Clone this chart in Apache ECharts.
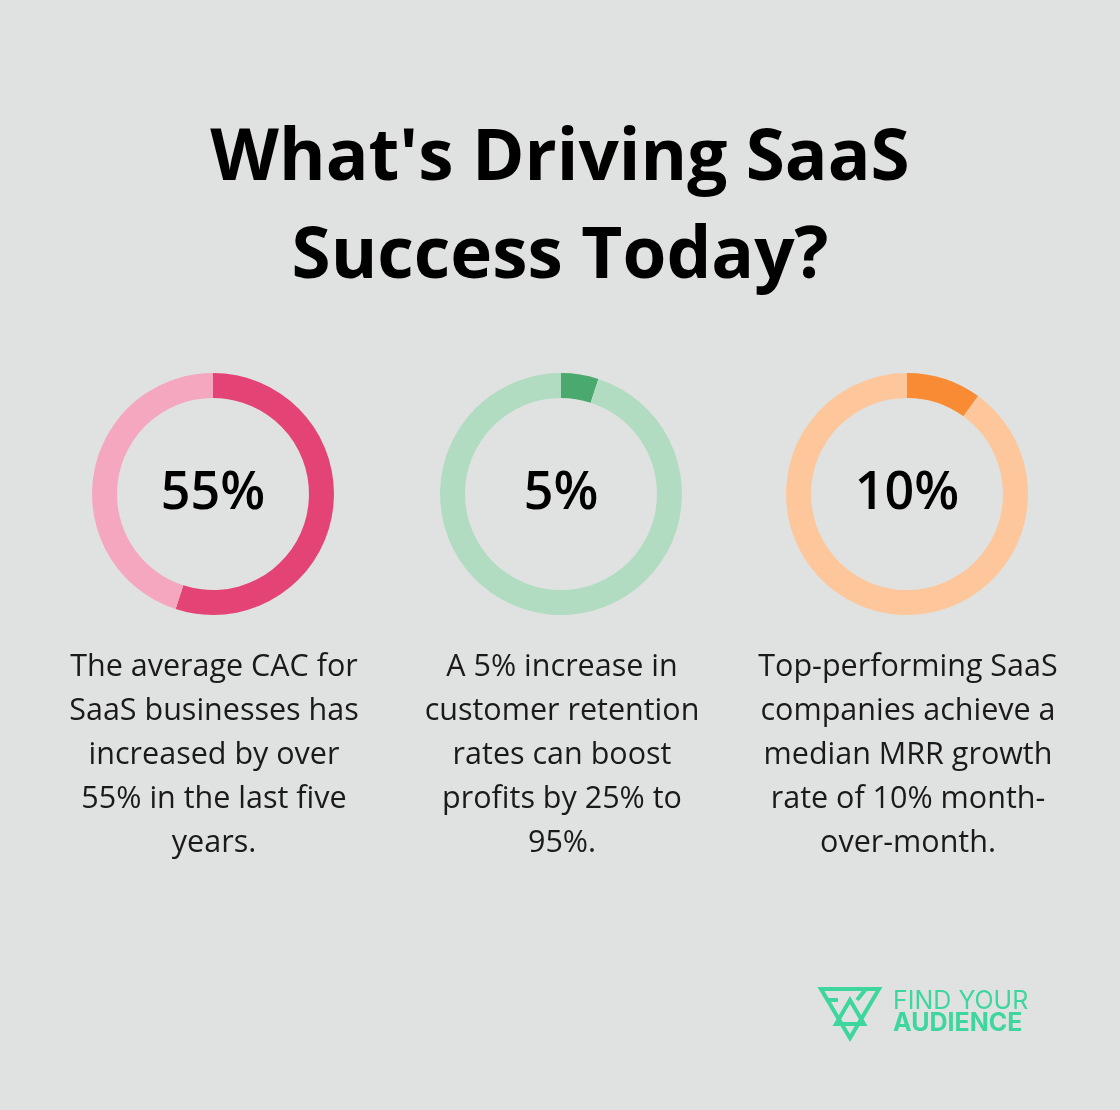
<!DOCTYPE html>
<html><head><meta charset="utf-8">
<script src="https://cdn.jsdelivr.net/npm/echarts@6/dist/echarts.min.js"></script>
<style>html,body{margin:0;padding:0;background:#e0e2e1}#c{width:1120px;height:1110px}</style>
</head><body><div id="c"></div>
<script>
const titleLines = ["What's Driving SaaS", "Success Today?"];
const values = [55, 5, 10];
const labels = ["55%", "5%", "10%"];
const descriptions = [
  "The average CAC for\nSaaS businesses has\nincreased by over\n55% in the last five\nyears.",
  "A 5% increase in\ncustomer retention\nrates can boost\nprofits by 25% to\n95%.",
  "Top-performing SaaS\ncompanies achieve a\nmedian MRR growth\nrate of 10% month-\nover-month."
];
const mainColors = ["#e44375", "#4aa96c", "#f88b34"];
const restColors = ["#f4a7bf", "#b1dcc1", "#fdc79b"];
const centersX = [213, 561, 907];

const chart = echarts.init(document.getElementById('c'));
const series = values.map((v, i) => ({
  type: 'pie', radius: [96, 121], center: [centersX[i], 494], startAngle: 90,
  clockwise: true, silent: true, label: {show: false}, labelLine: {show: false},
  itemStyle: {borderWidth: 0},
  data: [{value: v, itemStyle: {color: mainColors[i]}}, {value: 100 - v, itemStyle: {color: restColors[i]}}]
}));
const graphic = [];
titleLines.forEach((t, i) => graphic.push({type: 'text', x: 560, y: 160 + i * 98,
  style: {text: t, font: 'bold 71px "Open Sans"', fill: '#000', align: 'center', verticalAlign: 'middle'}}));
labels.forEach((t, i) => graphic.push({type: 'text', x: centersX[i], y: 494,
  style: {text: t, font: '600 52px "Open Sans"', fill: '#000', align: 'center', verticalAlign: 'middle'}}));
descriptions.forEach((t, i) => graphic.push({type: 'text', x: centersX[i] + 1, y: 645,
  style: {text: t, font: '30.5px "Open Sans"', lineHeight: 44, fill: '#1a1a1a', align: 'center'}}));
const g = '#3dd69c';
graphic.push(
  {type: 'polygon', shape: {points: [[821,989],[879,989],[850,1038]]}, style: {fill: 'none', stroke: g, lineWidth: 4}},
  {type: 'polygon', shape: {points: [[850,1000],[864,1024],[836,1024]]}, style: {fill: 'none', stroke: g, lineWidth: 4}},
  {type: 'polyline', shape: {points: [[826,1000],[838,1000]]}, style: {stroke: g, lineWidth: 4}},
  {type: 'polyline', shape: {points: [[857,1000],[866,989]]}, style: {stroke: g, lineWidth: 4}},
  {type: 'text', x: 893, y: 989, style: {text: 'FIND YOUR', font: '25px "Inter"', fill: g}},
  {type: 'text', x: 893, y: 1011, style: {text: 'AUDIENCE', font: 'bold 25px "Inter"', fill: g}}
);
chart.setOption({backgroundColor: '#e0e2e1', animation: false, series, graphic});
</script></body></html>
